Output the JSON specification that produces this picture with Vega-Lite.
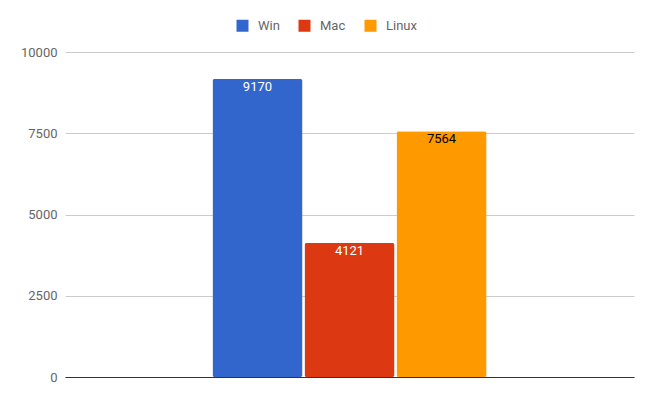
{
  "$schema": "https://vega.github.io/schema/vega-lite/v6.json",
  "width": 569,
  "height": 325,
  "autosize": {"type": "none"},
  "padding": {"left": 65, "top": 52, "right": 20, "bottom": 27},
  "background": "white",
  "config": {
    "view": {"stroke": null},
    "font": "Roboto",
    "axis": {"labelFont": "Roboto", "labelFontSize": 13, "labelColor": "#666"},
    "legend": {"labelFont": "Roboto", "labelFontSize": 13, "labelColor": "#666"}
  },
  "data": {
    "values": [
      {"group": "A", "os": "Win", "count": 9170},
      {"group": "A", "os": "Mac", "count": 4121},
      {"group": "A", "os": "Linux", "count": 7564}
    ]
  },
  "encoding": {
    "x": {
      "field": "group", "type": "nominal", "title": null,
      "scale": {"paddingInner": 0, "paddingOuter": 0.538},
      "axis": {"labels": false, "ticks": false, "domainColor": "#333", "domainWidth": 1.2, "grid": false}
    },
    "xOffset": {
      "field": "os", "type": "nominal", "sort": ["Win", "Mac", "Linux"],
      "scale": {"paddingInner": 0.022, "paddingOuter": 0}
    },
    "y": {
      "field": "count", "type": "quantitative", "title": null,
      "scale": {"domain": [0, 10000]},
      "axis": {"values": [0, 2500, 5000, 7500, 10000], "format": "d", "domain": false, "ticks": false, "labelPadding": 8, "gridColor": "#ccc", "labelFlush": false}
    }
  },
  "layer": [
    {
      "mark": {"type": "bar", "cornerRadius": 2},
      "encoding": {
        "color": {
          "field": "os", "type": "nominal", "sort": ["Win", "Mac", "Linux"],
          "scale": {"domain": ["Win", "Mac", "Linux"], "range": ["#3366cc", "#dc3912", "#ff9900"]},
          "legend": {
            "title": null, "orient": "none", "direction": "horizontal",
            "legendX": 171, "legendY": -33,
            "symbolType": "square", "symbolSize": 144, "symbolStrokeWidth": 0,
            "labelOffset": 9, "columnPadding": 18
          }
        }
      }
    },
    {
      "mark": {"type": "text", "baseline": "top", "dy": 2, "fontSize": 13, "font": "Roboto"},
      "encoding": {
        "text": {"field": "count", "type": "quantitative", "format": "d"},
        "color": {
          "condition": {"test": "datum.os === 'Linux'", "value": "#000000"},
          "value": "#ffffff"
        }
      }
    }
  ]
}
